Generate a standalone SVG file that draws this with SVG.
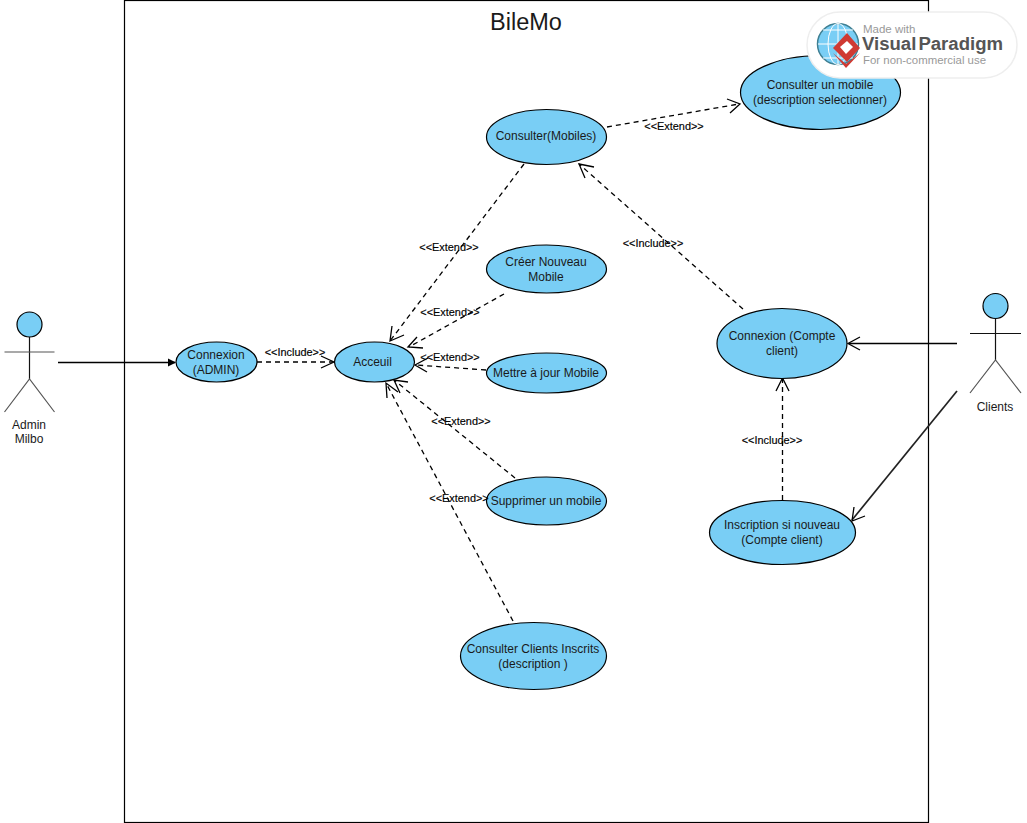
<svg xmlns="http://www.w3.org/2000/svg" width="1027" height="823" viewBox="0 0 1027 823">
<style>
text{font-family:"Liberation Sans",Arial,sans-serif;font-size:12px;fill:#1a1a1a;text-anchor:middle}
.uc{fill:#79cef5;stroke:#000;stroke-width:1.2}
.a{fill:none;stroke:#111;stroke-width:1.2}
.s{fill:none;stroke:#000;stroke-width:1.3}
.d{fill:none;stroke:#000;stroke-width:1.3;stroke-dasharray:5 4}
.h{fill:none;stroke:#000;stroke-width:1.3}
.l{font-size:10.900px;fill:#000;stroke:#000;stroke-width:.15}
</style>
<rect width="1027" height="823" fill="#fff"/>
<g id="system"><rect x="124.500" y="0.500" width="804" height="822" fill="#fff" stroke="#000" stroke-width="1.200"/><text x="526" y="29.500" style="font-size:23.500px">BileMo</text></g>
<g id="connectors">
<path class="s" d="M58 362.500H175"/><path d="M176 362.500l-8-4v8z" fill="#000"/>
<path class="d" d="M257 362H333"/><path class="h" d="M321 356l13 6-13 6"/>
<path class="d" d="M524 164L390 341"/><path class="h" d="M392 326l-2 15 14-6"/>
<path class="d" d="M504 294L409 347"/><path class="h" d="M417 337l-9 10 15 1"/>
<path class="d" d="M486 370L416 365"/><path class="h" d="M428 358l-13 7 12 7"/>
<path class="d" d="M515 478L394 380"/><path class="h" d="M408 382l-14-2 6 13"/>
<path class="d" d="M513 621L386 383"/><path class="h" d="M387 398l-1-15 12 9"/>
<path class="d" d="M607 127L739 104"/><path class="h" d="M727 99l13 5-10 9"/>
<path class="d" d="M743 309L579 164"/><path class="h" d="M594 167l-15-3 6 14"/>
<path class="s" d="M957 343.500H849"/><path class="h" d="M860 337l-12 6.500 12 6.500"/>
<path class="d" d="M782.500 500V379"/><path class="h" d="M776 391l6.500-13 6.500 13"/>
<path d="M957 391L852 520" fill="none" stroke="#222" stroke-width="1.700"/><path class="h" d="M854 507l-2 14 13-5"/>
</g>
<g id="admin"><circle cx="29.500" cy="324.500" r="12.500" class="uc"/><path d="M29.500 337V379" class="a"/><path d="M4.500 352H54.500" stroke="#555" stroke-width="1.200" fill="none"/><path d="M4.500 412L29.500 379L54.500 412" stroke="#555" stroke-width="1.200" fill="none"/><text x="29" y="429">Admin</text><text x="29" y="443">Milbo</text></g>
<g id="clients"><circle cx="995.500" cy="306" r="12.500" class="uc"/><path d="M995.500 318.500V360" class="a"/><path d="M970 333.500H1021" class="a"/><path d="M970 393L995.500 360L1021 393" stroke="#555" stroke-width="1.200" fill="none"/><text x="995" y="411">Clients</text></g>
<g id="connexion-admin"><ellipse cx="216.500" cy="362" rx="40.500" ry="20" class="uc"/><text x="216" y="359">Connexion</text><text x="216" y="374">(ADMIN)</text></g>
<g id="acceuil"><ellipse cx="374.500" cy="362" rx="40" ry="20" class="uc"/><text x="372.500" y="366">Acceuil</text></g>
<g id="consulter"><ellipse cx="546.500" cy="137" rx="60" ry="27.500" class="uc"/><text x="546" y="140">Consulter(Mobiles)</text></g>
<g id="consulter-mobile"><ellipse cx="820.500" cy="92.500" rx="80" ry="37" class="uc"/><text x="820" y="89">Consulter un mobile</text><text x="820" y="104">(description selectionner)</text></g>
<g id="creer"><ellipse cx="546.500" cy="269" rx="60" ry="24" class="uc"/><text x="546" y="266">Créer Nouveau</text><text x="546" y="281">Mobile</text></g>
<g id="maj"><ellipse cx="546.500" cy="373" rx="60" ry="20" class="uc"/><text x="546" y="377">Mettre à jour Mobile</text></g>
<g id="supprimer"><ellipse cx="546.500" cy="501" rx="60" ry="24" class="uc"/><text x="546" y="505">Supprimer un mobile</text></g>
<g id="clients-inscrits"><ellipse cx="533.500" cy="656" rx="73" ry="33.500" class="uc"/><text x="533" y="653">Consulter Clients Inscrits</text><text x="533" y="668">(description )</text></g>
<g id="connexion-client"><ellipse cx="782" cy="343.500" rx="65" ry="35" class="uc"/><text x="782" y="340">Connexion (Compte</text><text x="782" y="355">client)</text></g>
<g id="inscription"><ellipse cx="782.500" cy="532.500" rx="73" ry="32" class="uc"/><text x="782" y="529">Inscription si nouveau</text><text x="782" y="544">(Compte client)</text></g>
<g id="labels">
<text class="l" x="295" y="356">&lt;&lt;Include&gt;&gt;</text>
<text class="l" x="449" y="251">&lt;&lt;Extend&gt;&gt;</text>
<text class="l" x="450" y="316">&lt;&lt;Extend&gt;&gt;</text>
<text class="l" x="450" y="361">&lt;&lt;Extend&gt;&gt;</text>
<text class="l" x="461" y="425">&lt;&lt;Extend&gt;&gt;</text>
<text class="l" x="459" y="502">&lt;&lt;Extend&gt;&gt;</text>
<text class="l" x="674" y="130">&lt;&lt;Extend&gt;&gt;</text>
<text class="l" x="653" y="247">&lt;&lt;Include&gt;&gt;</text>
<text class="l" x="772" y="444">&lt;&lt;Include&gt;&gt;</text>
</g>
<g id="watermark">
<rect x="807" y="12" width="210" height="66" rx="33" fill="#fff" stroke="#eee" stroke-width="1.500"/>
<circle cx="838" cy="44" r="20.500" fill="#79cef5" stroke="#3f7f92" stroke-width="1.500"/>
<path d="M818 44H858M838 24V64M823 30H853M823 58H853" stroke="#fff" stroke-width="1" fill="none"/><ellipse cx="838" cy="44" rx="10" ry="20.500" fill="none" stroke="#fff"/>
<path d="M847 33L860 48L847 62L833 48Z" fill="#cf3a33"/><path d="M833 53L846 68L860 53L846 64Z" fill="#cf3a33"/><path d="M847 41L853 47L846 54L840 47Z" fill="#fff"/>
<text x="863" y="33" style="font-size:11.500px;fill:#999;text-anchor:start">Made with</text>
<text x="862" y="50" style="font-size:18px;font-weight:bold;fill:#555;text-anchor:start;word-spacing:-3px" textLength="141" lengthAdjust="spacingAndGlyphs">Visual Paradigm</text>
<text x="863" y="64" style="font-size:11.500px;fill:#999;text-anchor:start" textLength="123" lengthAdjust="spacingAndGlyphs">For non-commercial use</text>
</g>
</svg>
